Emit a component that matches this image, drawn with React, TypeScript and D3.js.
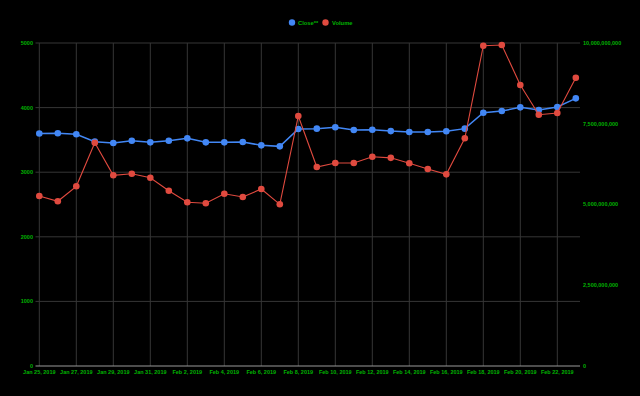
import React from "react";
import * as d3 from "d3";

const dates = [
  "Jan 25, 2019", "Jan 26, 2019", "Jan 27, 2019", "Jan 28, 2019", "Jan 29, 2019", "Jan 30, 2019",
  "Jan 31, 2019", "Feb 1, 2019", "Feb 2, 2019", "Feb 3, 2019", "Feb 4, 2019", "Feb 5, 2019",
  "Feb 6, 2019", "Feb 7, 2019", "Feb 8, 2019", "Feb 9, 2019", "Feb 10, 2019", "Feb 11, 2019",
  "Feb 12, 2019", "Feb 13, 2019", "Feb 14, 2019", "Feb 15, 2019", "Feb 16, 2019", "Feb 17, 2019",
  "Feb 18, 2019", "Feb 19, 2019", "Feb 20, 2019", "Feb 21, 2019", "Feb 22, 2019", "Feb 23, 2019",
];

const close = [
  3600, 3602, 3587, 3473, 3452, 3488, 3462, 3488, 3524, 3462, 3462, 3467, 3416, 3400, 3668,
  3674, 3695, 3653, 3658, 3636, 3622, 3622, 3633, 3674, 3921, 3947, 4004, 3963, 4009, 4143,
];

const volume = [
  5.263e9, 5.099e9, 5.563e9, 6.913e9, 5.904e9, 5.954e9, 5.83e9, 5.427e9, 5.068e9, 5.04e9,
  5.334e9, 5.232e9, 5.48e9, 5.006e9, 7.74e9, 6.161e9, 6.285e9, 6.285e9, 6.48e9, 6.445e9,
  6.275e9, 6.099e9, 5.934e9, 7.049e9, 9.917e9, 9.938e9, 8.7e9, 7.78e9, 7.833e9, 8.926e9,
];

const leftTicks = [0, 1000, 2000, 3000, 4000, 5000];
const rightTicks = [0, 2.5e9, 5e9, 7.5e9, 10e9];
const seriesNames = ["Close**", "Volume"];

const W = 640;
const H = 396;
const GREEN = "#00b400";
const BLUE = "#4287f5";
const RED = "#e04a3f";
const FONT = "'Liberation Sans', Arial, sans-serif";

export default function App() {
  const plotL = 35.5;
  const plotR = 580;
  const top = 43;
  const bottom = 366;

  const x = d3.scalePoint<string>().domain(dates).range([39.3, 575.8]);
  const yL = d3.scaleLinear().domain([0, 5000]).range([bottom, top]);
  const yR = d3.scaleLinear().domain([0, 10e9]).range([bottom, top]);

  const closeLine = d3
    .line<number>()
    .x((_, i) => x(dates[i]) as number)
    .y((d) => yL(d));
  const volLine = d3
    .line<number>()
    .x((_, i) => x(dates[i]) as number)
    .y((d) => yR(d));

  const fmt = d3.format(",");
  const fs = 5.5;

  return (
    <svg
      width={W}
      height={H}
      style={{ position: "absolute", left: 0, top: 0, background: "#000", display: "block" }}
      fontFamily={FONT}
    >
      <rect x={0} y={0} width={W} height={H} fill="#000" />
      {leftTicks
        .filter((t) => t > 0)
        .map((t) => (
          <line key={"h" + t} x1={plotL} x2={plotR} y1={yL(t)} y2={yL(t)} stroke="#363636" strokeWidth={1} />
        ))}
      {dates
        .filter((_, i) => i % 2 === 0)
        .map((d) => (
          <line key={"v" + d} x1={x(d)} x2={x(d)} y1={top} y2={bottom} stroke="#363636" strokeWidth={1} />
        ))}
      <line x1={plotL} x2={plotR} y1={bottom} y2={bottom} stroke="#9a9a9a" strokeWidth={1} />

      {leftTicks.map((t) => (
        <text key={"l" + t} x={33} y={yL(t)} dy="0.35em" textAnchor="end" fontSize={fs} fontWeight="bold" fill={GREEN}>
          {t}
        </text>
      ))}
      {rightTicks.map((t) => (
        <text key={"r" + t} x={583} y={yR(t)} dy="0.35em" textAnchor="start" fontSize={fs} fontWeight="bold" fill={GREEN}>
          {fmt(t)}
        </text>
      ))}
      {dates
        .filter((_, i) => i % 2 === 0)
        .map((d) => (
          <text key={"x" + d} x={x(d)} y={372.5} dy="0.35em" textAnchor="middle" fontSize={fs} fontWeight="bold" fill={GREEN}>
            {d}
          </text>
        ))}

      <path d={closeLine(close) || ""} fill="none" stroke={BLUE} strokeWidth={1.5} />
      {close.map((v, i) => (
        <circle key={"c" + i} cx={x(dates[i])} cy={yL(v)} r={3.3} fill={BLUE} />
      ))}

      <path d={volLine(volume) || ""} fill="none" stroke={RED} strokeWidth={1.1} />
      {volume.map((v, i) => (
        <circle key={"vol" + i} cx={x(dates[i])} cy={yR(v)} r={3.3} fill={RED} />
      ))}

      <g>
        <circle cx={292} cy={22.5} r={3.2} fill={BLUE} />
        <text x={298} y={22.5} dy="0.35em" fontSize={5.8} fontWeight="bold" fill={GREEN}>
          {seriesNames[0]}
        </text>
        <circle cx={325.5} cy={22.5} r={3.2} fill={RED} />
        <text x={332} y={22.5} dy="0.35em" fontSize={5.8} fontWeight="bold" fill={GREEN}>
          {seriesNames[1]}
        </text>
      </g>
    </svg>
  );
}
